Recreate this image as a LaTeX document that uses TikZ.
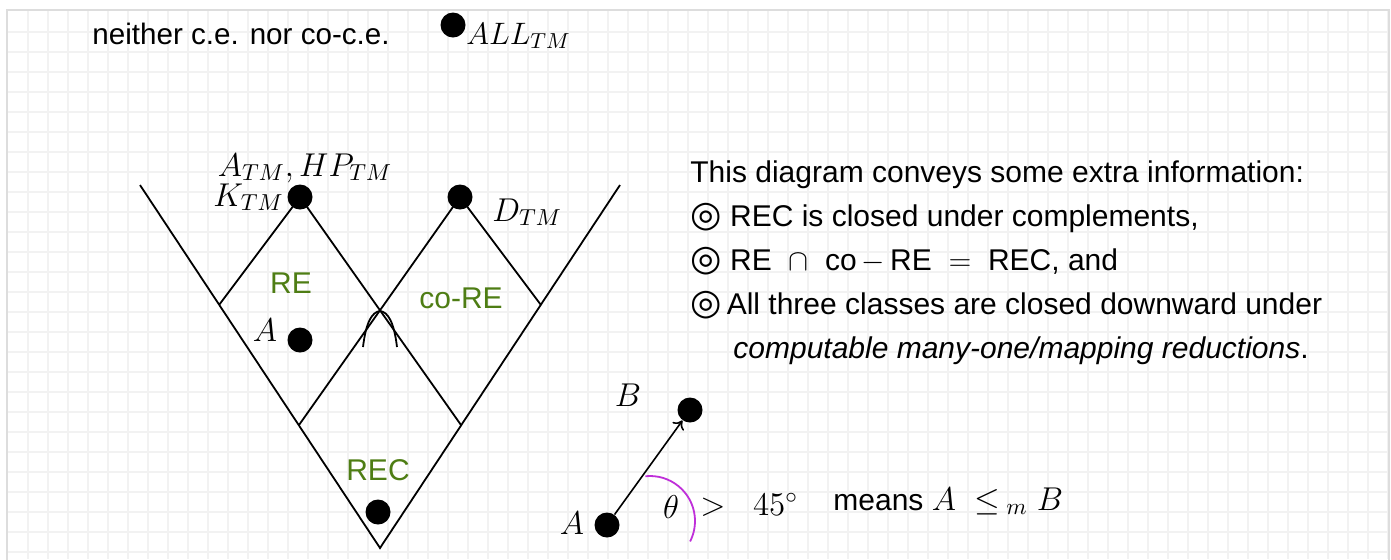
\RequirePackage{fix-cm}
\documentclass[tikz,border=0pt]{standalone}
\usepackage{fontspec}
\setmainfont{Liberation Sans}
\newfontfamily\symfont{DejaVu Sans}
\usepackage{tikz}
\usetikzlibrary{arrows.meta, positioning}
\definecolor{classgreen}{HTML}{4E7D14}
\definecolor{anglemag}{HTML}{BF2FD9}
\definecolor{gridgray}{HTML}{F2F2F2}
\definecolor{framegray}{HTML}{DDDDDD}

\begin{document}
\begin{tikzpicture}[x=0.5pt, y=-0.5pt,
    dot/.style={circle, fill=black, inner sep=0pt, minimum size=12.5pt},
    lbl/.style={inner sep=0pt, font=\fontsize{16.5}{19}\selectfont},
    cls/.style={inner sep=0pt, text=classgreen, font=\fontsize{15}{18}\selectfont},
    note/.style={inner sep=0pt, anchor=base west, font=\fontsize{15}{18}\selectfont},
    edge/.style={line width=0.9pt}]
  \useasboundingbox (0,0) rectangle (1391,559);
  % squared paper
  \foreach \gx in {28,48,...,1388} \draw[gridgray, line width=1pt] (\gx,10) -- (\gx,559);
  \foreach \gy in {32,52,...,552} \draw[gridgray, line width=1pt] (7,\gy) -- (1389,\gy);
  \draw[framegray, line width=0.6pt] (7,580) |- (1389,10) -- (1389,580);

  % the V and its three classes
  \coordinate (apex) at (380,548);
  \coordinate (outL) at (140,185);
  \coordinate (outR) at (620,185);
  \coordinate (reTop) at (300,197);
  \coordinate (coTop) at (460,197);
  \coordinate (reLft) at (219,305);
  \coordinate (coRgt) at (541,305);
  \coordinate (recL) at (299,425);
  \coordinate (recR) at (461,425);
  \coordinate (meet) at (380,311);
  \draw[edge] (outL) -- (apex) -- (outR);
  \draw[edge] (reLft) -- (reTop) -- (recR);
  \draw[edge] (recL) -- (coTop) -- (coRgt);
  \draw[edge] ([shift={(-17,36)}]meet) .. controls ([shift={(-14,11)}]meet) and ([shift={(-8,1)}]meet) .. (meet)
    .. controls ([shift={(8,1)}]meet) and ([shift={(14,11)}]meet) .. ([shift={(17,36)}]meet);

  \node[dot] (kdot) at (reTop) {};
  \node[dot] (ddot) at (coTop) {};
  \node[dot] (adot) at (300,340) {};
  \node[dot] (recdot) at (378,512) {};
  \node[dot] (alldot) at (453,25) {};

  \node[lbl, anchor=base] (names) at (305,176) {$A_{TM}, HP_{TM}$};
  \node[lbl, anchor=base east] (klbl) at (284,206) {$K_{TM}$};
  \node[lbl, anchor=base west] (dlbl) at (492,221) {$D_{TM}$};
  \node[lbl] (alab) at (265,330) {$A$};
  \node[lbl, anchor=base west, font=\fontsize{15.5}{18}\selectfont] (alllbl) at (466,44) {$ALL_{TM}$};
  \node[cls] (re) at (291,283) {RE};
  \node[cls] (core) at (461,298) {co-RE};
  \node[cls] (rec) at (378,470) {REC};
  \node[inner sep=0pt, anchor=base west, font=\fontsize{14.8}{17}\selectfont] (neither) at (92,44) {neither c.e. nor co-c.e.};

  % what the picture says
  \node[note] (info) at (690,182) {This diagram conveys some extra information:};
  \node[note] (cl1) at (690,226) {{\symfont\fontsize{18}{18}\selectfont ◎} REC is closed under complements,};
  \node[note] (cl2) at (690,270) {{\symfont\fontsize{18}{18}\selectfont ◎} RE $\;\cap\;$ co\,$-$\,RE $\;=\;$ REC, and};
  \node[note] (cl3) at (690,314) {{\symfont\fontsize{18}{18}\selectfont ◎}\,All three classes are closed downward under};
  \node[note] (cl4) at (733,358) {\itshape computable many-one/mapping reductions\upshape.};

  % reading the arrows
  \node[dot] (srcdot) at (607,525) {};
  \node[dot] (tgtdot) at (690,410) {};
  \node[lbl] (srclbl) at (572,523) {$A$};
  \node[lbl] (tgtlbl) at (628,395) {$B$};
  \draw[line width=0.8pt, -{To[length=4pt, width=7pt]}] (srcdot) -- (tgtdot);
  \draw[anglemag, line width=0.9pt] (650,521) ++(-96:45) arc[start angle=-96, end angle=27, radius=45];
  \node[lbl] (theta) at (671,507) {$\theta$};
  \node[lbl, anchor=west] (gt) at (700,505) {$>\;\;45^\circ$};
  \node[note] (means) at (833,510) {means {\fontsize{16.5}{19}\selectfont$A\;\le_{\;m} B$}};
\end{tikzpicture}
\end{document}
